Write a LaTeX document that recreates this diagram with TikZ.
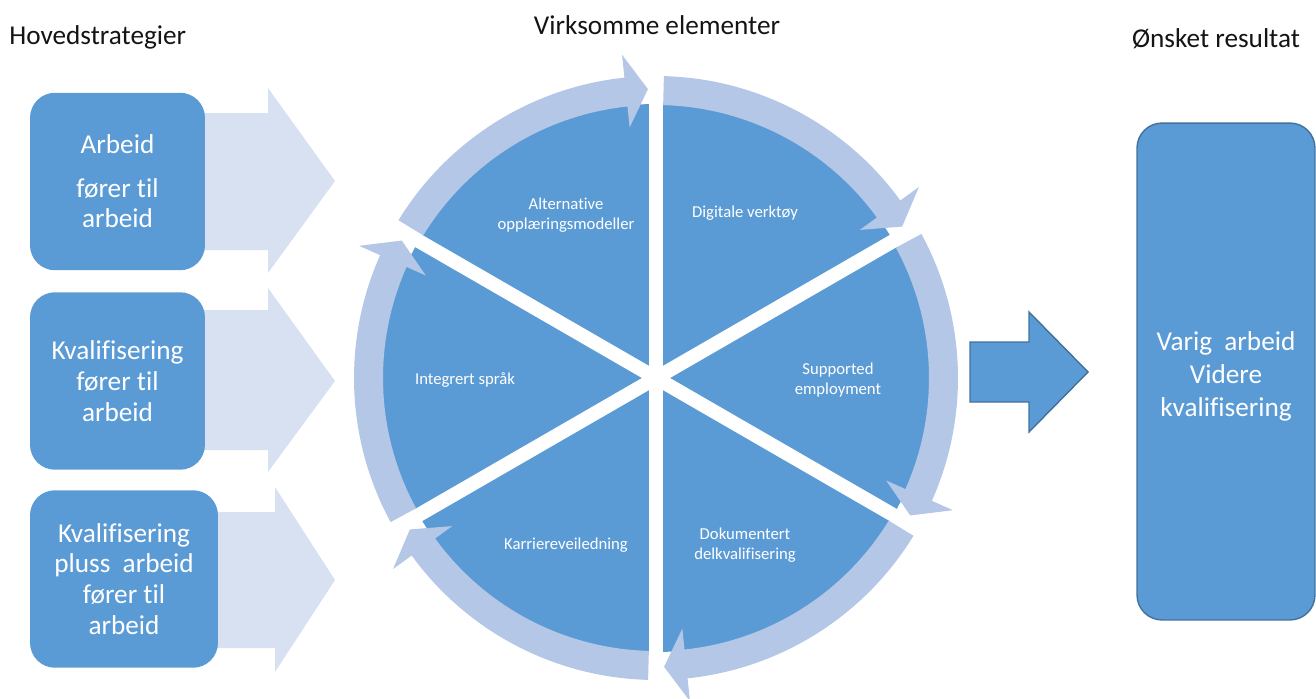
\documentclass[tikz,border=0pt]{standalone}
\usepackage{fontspec}
\setmainfont{Carlito}[Ligatures=NoCommon]
\usepackage{tikz}
\usepackage{xcolor}

\definecolor{piecol}{RGB}{91,155,213}
\definecolor{ringcol}{RGB}{180,199,231}
\definecolor{palecol}{RGB}{216,225,242}
\definecolor{edgecol}{RGB}{65,113,156}
\definecolor{titlecol}{RGB}{20,20,20}

\tikzset{
  strategy/.style={fill=piecol, rounded corners=0.5cm, inner sep=0pt, minimum width=3.5cm, minimum height=3.55cm, text=white, align=center, font=\fontsize{15.5}{17.5}\selectfont},
  result/.style={fill=piecol, draw=edgecol, line width=0.8pt, rounded corners=0.5cm, inner sep=0pt, minimum width=3.56cm, minimum height=9.94cm, text=white, align=center, font=\fontsize{15.5}{18.7}\selectfont},
  heading/.style={text=titlecol, inner sep=0pt, font=\fontsize{15.5}{17.5}\selectfont},
  wedgetext/.style={text=white, align=center, inner sep=0pt, font=\fontsize{9.5}{11}\selectfont},
  palearrow/.style={fill=palecol},
}

\begin{document}
\begin{tikzpicture}[x=0.02cm, y=0.02cm]
\useasboundingbox (0,0) rectangle (1316,698);

% headings
\node[heading, anchor=west] (hoved) at (9,661) {Hovedstrategier};
\node[heading] (virk) at (657,673) {Virksomme elementer};
\node[heading] (onsk) at (1216,659) {Ønsket resultat};

% pale arrows behind the strategy boxes
\fill[palearrow] (200,585) -- (268,585) -- (268,610) -- (335,517) -- (268,425) -- (268,448) -- (200,448) -- cycle;
\fill[palearrow] (200,388) -- (268,388) -- (268,410) -- (335,317) -- (268,226) -- (268,248) -- (200,248) -- cycle;
\fill[palearrow] (210,186) -- (275,186) -- (275,211) -- (335,118) -- (275,26) -- (275,50) -- (210,50) -- cycle;

% strategy boxes
\node[strategy] (arbeid) at (117.5,516.5) {Arbeid\\[7pt]fører til\\arbeid};
\node[strategy] (kval) at (117.5,317) {Kvalifisering\\fører til\\arbeid};
\node[strategy, minimum width=3.76cm] (pluss) at (124,119) {Kvalifisering\\pluss\ \ arbeid\\fører til\\arbeid};

% the wheel
\begin{scope}[shift={(656,320)}]
\fill[piecol] (0,0) circle (274);
\foreach \g in {30,90,150}
  \draw[white, line width=0.28cm] (\g:277) -- (\g+180:277);
\foreach \g in {30,90,...,330} {
  \pgfmathsetmacro{\t}{\g-1.5}
  \pgfmathsetmacro{\p}{\g-58.4}
  \pgfmathsetmacro{\b}{\g-54}
  \fill[ringcol] (\t:273) arc[start angle=\t, end angle=\b, radius=273]
    -- (\b:252) -- (\p:289) -- (\b:325) -- (\b:302)
    arc[start angle=\b, end angle=\t, radius=302] -- cycle;
}
\end{scope}

% wedge labels
\node[wedgetext] (alt) at (566,483) {Alternative\\opplæringsmodeller};
\node[wedgetext] (dig) at (745,485) {Digitale verktøy};
\node[wedgetext] (sup) at (838,318) {Supported\\employment};
\node[wedgetext] (dok) at (745,153) {Dokumentert\\delkvalifisering};
\node[wedgetext] (kar) at (566,153) {Karriereveiledning};
\node[wedgetext] (int) at (465,318) {Integrert språk};

% arrow to the result
\filldraw[fill=piecol, draw=edgecol, line width=0.8pt] (970,356) -- (1029,356) -- (1029,386) -- (1088,326) -- (1029,266) -- (1029,296) -- (970,296) -- cycle;

% result box
\node[result] (varig) at (1226,326.5) {\rule{0pt}{16pt}Varig\ \ arbeid\\Videre\\kvalifisering};
\end{tikzpicture}
\end{document}
